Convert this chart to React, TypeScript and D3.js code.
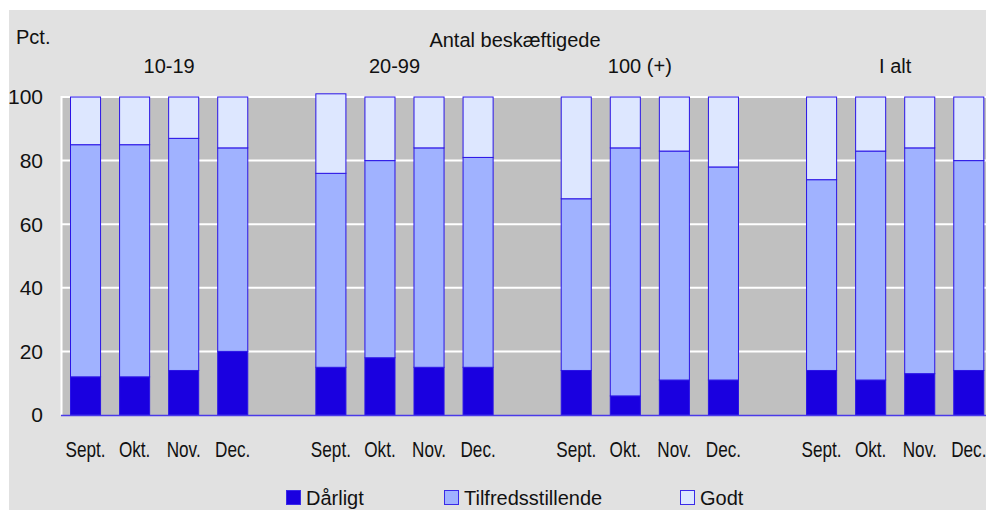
import React from 'react'
import * as d3 from 'd3'

const groups = ['10-19', '20-99', '100 (+)', 'I alt']
const months = ['Sept.', 'Okt.', 'Nov.', 'Dec.']
const seriesNames = ['Dårligt', 'Tilfredsstillende', 'Godt']
const yTicks = [0, 20, 40, 60, 80, 100]

// per group, per month
const daarligt = [12, 12, 14, 20, 15, 18, 15, 15, 14, 6, 11, 11, 14, 11, 13, 14]
const tilfreds = [73, 73, 73, 64, 61, 62, 69, 66, 54, 78, 72, 67, 60, 72, 71, 66]
const godt = [15, 15, 13, 16, 25, 20, 16, 19, 32, 16, 17, 22, 26, 17, 16, 20]

const colors = ['#1a00e0', '#a0b2ff', '#dde7ff']
const FONT = '"Liberation Sans", Arial, sans-serif'

const W = 986
const H = 510

type Row = { key: string; group: string; month: string; [k: string]: any }

const rows: Row[] = []
groups.forEach((g, gi) => {
  months.forEach((m, mi) => {
    const i = gi * months.length + mi
    rows.push({
      key: g + '|' + m,
      group: g,
      month: m,
      Dårligt: daarligt[i],
      Tilfredsstillende: tilfreds[i],
      Godt: godt[i],
    })
  })
})

// slots incl. an empty gap between groups
const slots: string[] = []
groups.forEach((g, gi) => {
  if (gi > 0) slots.push('gap' + gi)
  months.forEach((m) => slots.push(g + '|' + m))
})

const App = () => {
  const plotLeft = 61
  const plotTop = 96
  const y0 = 415

  const x = d3
    .scaleBand<string>()
    .domain(slots)
    .range([plotLeft, plotLeft + 19 * 49.07])
    .paddingInner(0.367)
    .paddingOuter(0.1835)

  const y = d3.scaleLinear().domain([0, 100]).range([y0, 97])

  const stack = d3.stack<Row>().keys(seriesNames)
  const layers = stack(rows)

  const bw = x.bandwidth()
  const labelShift = [10, -10, -10, 0]

  return (
    <svg
      width={W}
      height={H}
      style={{ position: 'absolute', left: 0, top: 0, fontFamily: FONT }}
    >
      <rect x={0} y={0} width={W} height={H} fill="#ffffff" />
      <rect x={9} y={10} width={W - 9} height={H - 10} fill="#e1e1e1" />

      {/* plot area */}
      <rect x={plotLeft} y={plotTop} width={W - plotLeft} height={y0 - plotTop} fill="#c0c0c0" />
      <line x1={plotLeft + 0.5} x2={plotLeft + 0.5} y1={plotTop} y2={y0} stroke="#ffffff" strokeWidth={2} />
      {yTicks
        .filter((t) => t > 0)
        .map((t) => (
          <line key={t} x1={plotLeft} x2={W} y1={y(t)} y2={y(t)} stroke="#ffffff" strokeWidth={2} />
        ))}

      {/* bars */}
      {layers.map((layer, li) => (
        <g key={layer.key} fill={colors[li]} stroke="#2a14e6" strokeWidth={1}>
          {layer.map((d) => (
            <rect
              key={d.data.key}
              x={(x(d.data.key) as number) + 0.5}
              y={y(d[1])}
              width={bw - 1}
              height={y(d[0]) - y(d[1])}
            />
          ))}
        </g>
      ))}

      <line x1={plotLeft} x2={W} y1={y0 + 0.5} y2={y0 + 0.5} stroke="#4a3ae8" strokeWidth={1.5} />

      {/* y axis */}
      {yTicks.map((t) => (
        <text key={t} x={43} y={y(t)} dy="0.35em" textAnchor="end" fontSize={21} fill="#111">
          {t}
        </text>
      ))}
      <text x={16} y={44} fontSize={20} fill="#111">
        Pct.
      </text>

      {/* x labels */}
      {rows.map((r) => (
        <text
          key={r.key}
          transform={`translate(${(x(r.key) as number) + bw / 2},457) scale(0.78,1)`}
          textAnchor="middle"
          fontSize={22}
          fill="#111"
        >
          {r.month}
        </text>
      ))}

      {/* group labels */}
      <text x={515} y={47} textAnchor="middle" fontSize={20} fill="#111">
        Antal beskæftigede
      </text>
      {groups.map((g, gi) => {
        const a = x(g + '|' + months[0]) as number
        const b = (x(g + '|' + months[months.length - 1]) as number) + bw
        return (
          <text key={g} x={(a + b) / 2 + labelShift[gi]} y={73} textAnchor="middle" fontSize={20} fill="#111">
            {g}
          </text>
        )
      })}

      {/* legend */}
      {seriesNames.map((s, i) => {
        const lx = [286, 444, 680][i]
        return (
          <g key={s}>
            <rect x={lx + 0.5} y={490.5} width={14} height={14} fill={colors[i]} stroke="#3a2ae8" />
            <text x={lx + 20} y={505} fontSize={20} fill="#111">
              {s}
            </text>
          </g>
        )
      })}
    </svg>
  )
}

export default App
